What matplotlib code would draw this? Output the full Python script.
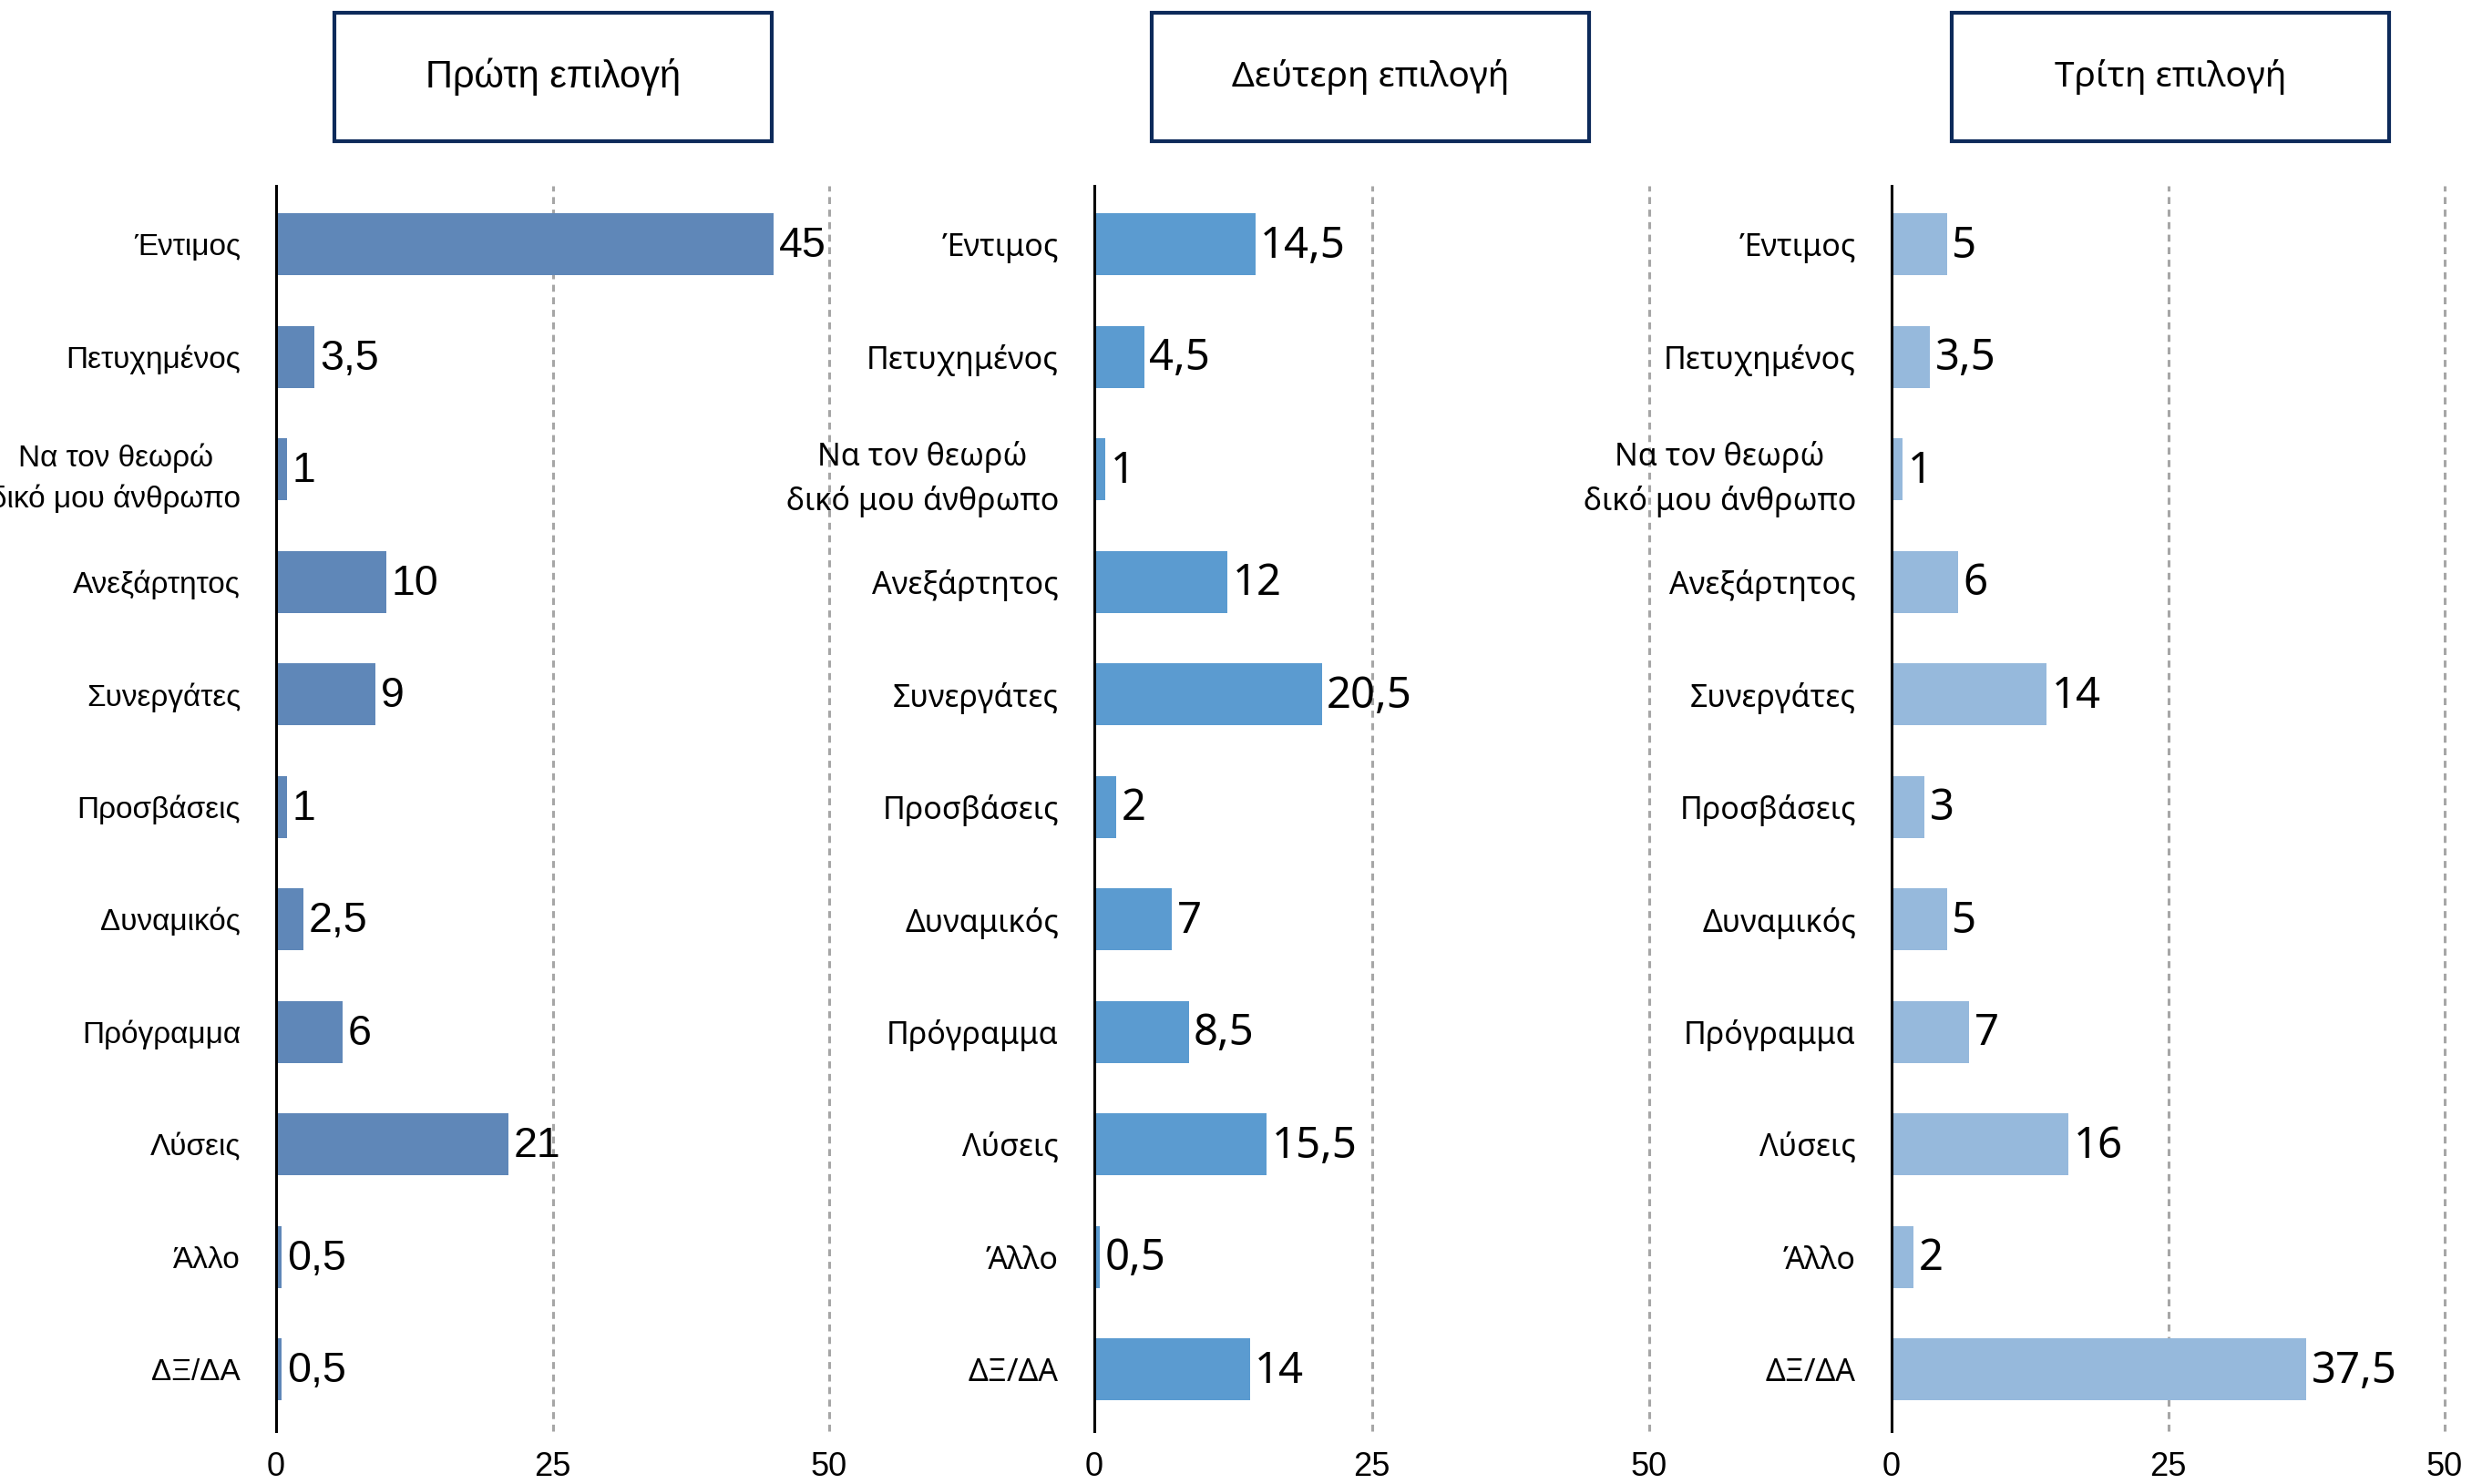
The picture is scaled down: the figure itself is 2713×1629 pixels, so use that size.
import numpy as np
import matplotlib.pyplot as plt
from matplotlib.patches import Rectangle

plt.rcParams.update({'font.size': 22})

# data
cats = ['Έντιμος', 'Πετυχημένος', 'Να τον θεωρώ\nδικό μου άνθρωπο', 'Ανεξάρτητος',
        'Συνεργάτες', 'Προσβάσεις', 'Δυναμικός', 'Πρόγραμμα', 'Λύσεις', 'Άλλο', 'ΔΞ/ΔΑ']
first = [45, 3.5, 1, 10, 9, 1, 2.5, 6, 21, 0.5, 0.5]
second = [14.5, 4.5, 1, 12, 20.5, 2, 7, 8.5, 15.5, 0.5, 14]
third = [5, 3.5, 1, 6, 14, 3, 5, 7, 16, 2, 37.5]
titles = ['Πρώτη επιλογή', 'Δεύτερη επιλογή', 'Τρίτη επιλογή']
xticks = [0, 25, 50]

series = [first, second, third]
clr = ['#5F87B8', '#5B9BD0', '#96B9DC']
narrow = ['Liberation Sans Narrow', 'Liberation Sans', 'DejaVu Sans']
wide = ['Noto Sans', 'DejaVu Sans']
lblfont = [narrow, wide, wide]
catsize = [24, 24.5, 24.5]
valsize = [33.5, 34, 34]
titsize = [30, 28, 28]

W, H = 2713, 1629
fig = plt.figure(figsize=(W/100, H/100), dpi=100)

# axes positions in pixels (left, right)
axpx = [(303, 910), (1201, 1810), (2076, 2683)]
boxpx = [367, 1264, 2142]
top, bot = 204, 1571

y = np.arange(len(cats))
for i in range(3):
    l, r = axpx[i]
    ax = fig.add_axes([l/W, 1-bot/H, (r-l)/W, (bot-top)/H])
    vals = series[i]
    ax.barh(y, vals, height=0.55, color=clr[i], zorder=3)
    for yy, v in zip(y, vals):
        s = ('%g' % v).replace('.', ',')
        ax.annotate(s, (v, yy), xytext=(4, -1.5), textcoords='offset points',
                    va='center', ha='left', fontsize=valsize[i],
                    family=lblfont[i], zorder=4)
    ax.set_xlim(0, 50)
    ax.set_ylim(10.55, -0.52)
    ax.set_yticks(y)
    ax.set_yticklabels(cats, family=lblfont[i], fontsize=catsize[i],
                       multialignment='center', linespacing=1.5)
    ax.set_xticks(xticks)
    ax.set_xticklabels([str(t) for t in xticks], family=narrow, fontsize=26)
    ax.tick_params(axis='both', length=0)
    ax.tick_params(axis='y', pad=28)
    ax.tick_params(axis='x', pad=16)
    for sp in ['top', 'right', 'bottom']:
        ax.spines[sp].set_visible(False)
    ax.spines['left'].set_linewidth(2.2)
    ax.spines['left'].set_zorder(5)
    for t in xticks[1:]:
        ax.axvline(t, color='#A6A6A6', linestyle=(0, (2.5, 2)), linewidth=2.2, zorder=1,
                   clip_on=False)

    # title box
    bx = boxpx[i]
    fig.patches.append(Rectangle((bx/W, 1-155/H), 480/W, 141/H, transform=fig.transFigure,
                                 fill=False, edgecolor='#0D2A5A', linewidth=3))
    fig.text((bx+240)/W, 1-84/H, titles[i], ha='center', va='center',
             family=lblfont[i], fontsize=titsize[i])

fig.savefig('out.png', dpi=100)
